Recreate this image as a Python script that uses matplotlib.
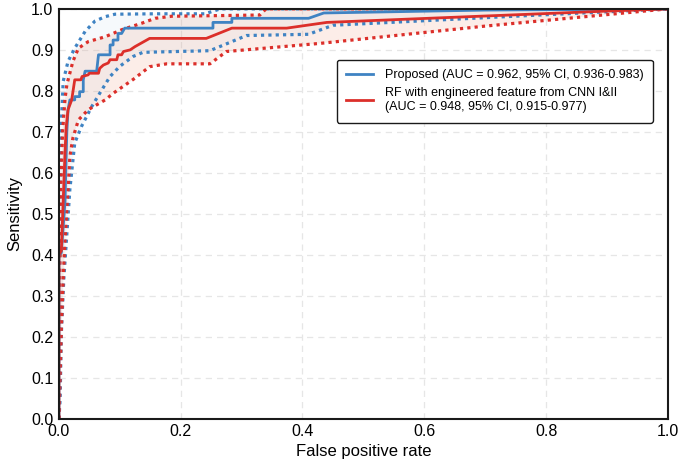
import numpy as np
import matplotlib
matplotlib.use("Agg")
import matplotlib.pyplot as plt

plt.rcParams['font.family'] = ['Liberation Sans', 'DejaVu Sans']

# ---- data ----
prop_fpr = [0, 0, 0.004, 0.010, 0.013, 0.015, 0.018, 0.026, 0.026, 0.034, 0.034, 0.040, 0.040,
            0.043, 0.062, 0.065, 0.084, 0.084, 0.089, 0.089, 0.097, 0.097, 0.103, 0.108, 0.253,
            0.253, 0.284, 0.284, 0.41, 0.435, 0.7, 1.0]
prop_tpr = [0, 0.40, 0.405, 0.53, 0.70, 0.754, 0.778, 0.778, 0.786, 0.786, 0.798, 0.798, 0.827,
            0.848, 0.848, 0.888, 0.888, 0.912, 0.912, 0.924, 0.924, 0.940, 0.940, 0.953, 0.953,
            0.967, 0.967, 0.977, 0.977, 0.990, 0.997, 1.0]

prop_up_fpr = [0, 0.0, 0.002, 0.004, 0.007, 0.015, 0.026, 0.043, 0.059, 0.076, 0.092, 0.158, 0.24, 0.265, 1.0]
prop_up_tpr = [0, 0.10, 0.55, 0.72, 0.823, 0.872, 0.904, 0.945, 0.970, 0.981, 0.987, 0.988, 0.988, 1.0, 1.0]

prop_lo_fpr = [0, 0.002, 0.004, 0.008, 0.013, 0.018, 0.026, 0.037, 0.054, 0.067, 0.084, 0.100, 0.122,
               0.138, 0.248, 0.308, 0.41, 0.43, 0.45, 0.72, 1.0]
prop_lo_tpr = [0, 0.046, 0.208, 0.34, 0.45, 0.56, 0.673, 0.713, 0.762, 0.794, 0.835, 0.860, 0.884,
               0.894, 0.898, 0.935, 0.938, 0.949, 0.960, 0.980, 1.0]

rf_fpr = [0, 0, 0.004, 0.007, 0.010, 0.012, 0.015, 0.021, 0.026, 0.036, 0.038, 0.048, 0.050, 0.065,
          0.067, 0.073, 0.081, 0.084, 0.095, 0.097, 0.103, 0.106, 0.117, 0.125, 0.149, 0.242,
          0.284, 0.374, 0.44, 0.89, 1.0]
rf_tpr = [0, 0.40, 0.41, 0.53, 0.65, 0.713, 0.754, 0.778, 0.827, 0.827, 0.835, 0.839, 0.843, 0.843,
          0.855, 0.863, 0.868, 0.876, 0.876, 0.888, 0.888, 0.896, 0.900, 0.908, 0.928, 0.928,
          0.953, 0.953, 0.967, 0.994, 1.0]

rf_up_fpr = [0, 0.001, 0.003, 0.006, 0.010, 0.013, 0.023, 0.032, 0.048, 0.076, 0.103, 0.136, 0.158,
             0.185, 0.33, 0.34, 1.0]
rf_up_tpr = [0, 0.30, 0.55, 0.70, 0.78, 0.815, 0.872, 0.904, 0.920, 0.932, 0.949, 0.965, 0.977,
             0.982, 0.985, 1.0, 1.0]

rf_lo_fpr = [0, 0.001, 0.004, 0.007, 0.010, 0.015, 0.018, 0.023, 0.032, 0.048, 0.076, 0.090, 0.122,
             0.149, 0.177, 0.248, 0.275, 0.43, 0.70, 1.0]
rf_lo_tpr = [0, 0.05, 0.22, 0.34, 0.437, 0.56, 0.640, 0.685, 0.729, 0.754, 0.778, 0.795, 0.828,
             0.859, 0.866, 0.866, 0.896, 0.916, 0.958, 1.0]

x_ticks = [0.0, 0.2, 0.4, 0.6, 0.8, 1.0]
y_ticks = [0.0, 0.1, 0.2, 0.3, 0.4, 0.5, 0.6, 0.7, 0.8, 0.9, 1.0]

label_prop = "Proposed (AUC = 0.962, 95% CI, 0.936-0.983)"
label_rf = "RF with engineered feature from CNN I&II\n(AUC = 0.948, 95% CI, 0.915-0.977)"

blue = "#3f83c3"
red = "#dc2f2a"

fig = plt.figure(figsize=(6.85, 4.67), dpi=100)
ax = fig.add_axes([0.086, 0.103, 0.889, 0.878])

# CI bands
ax.fill(np.r_[prop_up_fpr, prop_lo_fpr[::-1]], np.r_[prop_up_tpr, prop_lo_tpr[::-1]],
        color="#b5d3ee", alpha=0.12, lw=0, zorder=1)
ax.fill(np.r_[rf_up_fpr, rf_lo_fpr[::-1]], np.r_[rf_up_tpr, rf_lo_tpr[::-1]],
        color="#f0a080", alpha=0.18, lw=0, zorder=1)

dot = (0, (1, 1.3))
ax.plot(prop_up_fpr, prop_up_tpr, color=blue, lw=2.3, ls=dot, zorder=3)
ax.plot(prop_lo_fpr, prop_lo_tpr, color=blue, lw=2.3, ls=dot, zorder=3)
ax.plot(rf_up_fpr, rf_up_tpr, color=red, lw=2.3, ls=dot, zorder=3)
ax.plot(rf_lo_fpr, rf_lo_tpr, color=red, lw=2.3, ls=dot, zorder=3)

ax.plot(prop_fpr, prop_tpr, color=blue, lw=2.0, label=label_prop, zorder=4)
ax.plot(rf_fpr, rf_tpr, color=red, lw=2.0, label=label_rf, zorder=4)

ax.set_xlim(0, 1)
ax.set_ylim(0, 1)
ax.set_xticks(x_ticks)
ax.set_yticks(y_ticks)
ax.set_xticklabels([f"{v:.1f}" for v in x_ticks])
ax.set_yticklabels([f"{v:.1f}" for v in y_ticks])
ax.tick_params(length=0, labelsize=11.5, pad=4)
ax.grid(True, ls=(0, (5, 4)), color="#e6e6e6", lw=0.9, zorder=0)
ax.set_axisbelow(True)
for s in ax.spines.values():
    s.set_linewidth(1.5)
    s.set_color("#1a1a1a")
    s.set_zorder(5)

ax.set_xlabel("False positive rate", fontsize=12, labelpad=3)
ax.set_ylabel("Sensitivity", fontsize=12, labelpad=6)

leg = ax.legend(loc="upper left", bbox_to_anchor=(0.456, 0.876), borderaxespad=0,
                fontsize=9, frameon=True, fancybox=True, edgecolor="#1a1a1a",
                handlelength=2.2, handletextpad=0.9, borderpad=0.75, labelspacing=0.45)
for t in leg.get_texts():
    t.set_linespacing(1.3)
leg.get_frame().set_linewidth(1.0)
leg.get_frame().set_alpha(1)

fig.savefig("out.png", dpi=100)
